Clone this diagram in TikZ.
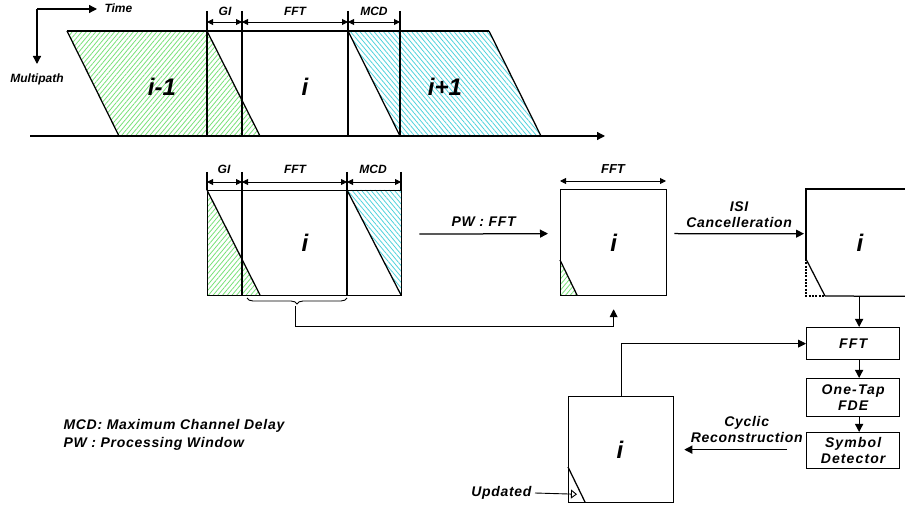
\documentclass[tikz,border=0pt]{standalone}
\usepackage{fontspec}
\setmainfont{Liberation Sans}
\usetikzlibrary{arrows.meta,patterns.meta,decorations.pathreplacing,positioning}
\definecolor{hatchgreen}{RGB}{120,225,120}
\definecolor{hatchcyan}{RGB}{80,210,220}
\tikzset{
  line/.style={line width=1.25pt},
  thinline/.style={line width=0.9pt},
  tip/.style={-{Triangle[length=8pt,width=8pt]}},
  dim/.style={thinline, {Triangle[length=6pt,width=6pt]}-{Triangle[length=6pt,width=6pt]}},
  greenhatch/.style={pattern={Lines[angle=50, distance=3.6pt, line width=0.8pt]}, pattern color=hatchgreen},
  cyanhatch/.style={pattern={Lines[angle=-50, distance=3.6pt, line width=0.8pt]}, pattern color=hatchcyan},
  lbl/.style={font=\fontsize{12}{13}\selectfont\bfseries\itshape},
  big/.style={font=\fontsize{24}{26}\selectfont\bfseries\itshape},
  mid/.style={font=\fontsize{14}{16}\selectfont\bfseries\itshape\addfontfeatures{LetterSpace=5}, align=center},
  frame/.style={draw, line, inner sep=0pt, anchor=north west},
  blk/.style={frame, minimum width=93pt, align=center,
    font=\fontsize{14}{16}\selectfont\bfseries\itshape\addfontfeatures{LetterSpace=8}}
}
\begin{document}
\begin{tikzpicture}[x=1pt,y=-1pt]
  \useasboundingbox (0,0) rectangle (905,510);
  % axes: time and multipath
  \node[lbl, anchor=west] (time) at (101,8) {Time};
  \node[lbl] (mpath) at (37,79) {Multipath};
  \coordinate (ax) at (37,9);
  \draw[line, tip] (ax) -- (97,9);
  \draw[line, tip] (ax) -- (37,64);
  % received blocks i-1, i, i+1
  \fill[greenhatch] (67,31) -- (207,31) -- (260,136) -- (119,136) -- cycle;
  \fill[cyanhatch] (348,31) -- (489,31) -- (541,136) -- (400,136) -- cycle;
  \draw[line] (67,31) -- (489,31);
  \draw[line] (67,31) -- (119,136);
  \draw[line] (207,31) -- (260,136);
  \draw[line] (348,31) -- (400,136);
  \draw[line] (489,31) -- (541,136);
  \foreach \x in {207,242,348,400} {
      \draw[line] (\x,11) -- (\x,136);
  }
  \draw[line, tip] (30,136) -- (605,136);
  \draw[dim] (207,22) -- (242,22);
  \draw[dim] (242,22) -- (348,22);
  \draw[dim] (348,22) -- (400,22);
  \node[lbl] (gi0) at (225,11) {GI};
  \node[lbl] (fft0) at (295,11) {FFT};
  \node[lbl] (mcd0) at (374,11) {MCD};
  \node[big] (prev) at (162,87) {i-1};
  \node[big] (cur) at (305,87) {i};
  \node[big] (next) at (445,87) {i+1};
  % window with GI, FFT and MCD
  \fill[greenhatch] (207,190) -- (260,295) -- (207,295) -- cycle;
  \fill[cyanhatch] (347,190) -- (401,190) -- (401,295) -- cycle;
  \node[frame, minimum width=194pt, minimum height=105pt] (win) at (207,190) {};
  \draw[line] (207,190) -- (260,295);
  \draw[line] (347,190) -- (401,295);
  \draw[line] (207,172) -- (207,190);
  \draw[line] (401,172) -- (401,190);
  \draw[line] (242,172) -- (242,295);
  \draw[line] (347,172) -- (347,295);
  \draw[dim] (207,182) -- (242,182);
  \draw[dim] (242,182) -- (347,182);
  \draw[dim] (347,182) -- (401,182);
  \node[lbl] (gi1) at (224,169) {GI};
  \node[lbl] (fft1) at (295,169) {FFT};
  \node[lbl] (mcd1) at (373,169) {MCD};
  \node[big] at (305,243) {i};
  % brace under the FFT part
  \draw[thinline, decorate, decoration={brace, mirror, amplitude=6pt}] (247,298) -- (347,298);
  \coordinate (bt) at (295,306);
  \coordinate (bend) at (295,326);
  % processing window block
  \fill[greenhatch] (560,260) -- (577,295) -- (560,295) -- cycle;
  \node[frame, minimum width=106pt, minimum height=106pt] (pw) at (560,189) {};
  \draw[line] (560,260) -- (577,295);
  \node[big] at (pw.center) {i};
  \draw[dim] (560,181) -- (666,181);
  \node[lbl, font=\fontsize{13}{14}\selectfont\bfseries\itshape] (fft2) at (613,169) {FFT};
  \draw[line, tip] ([shift={(17,-9)}]win.east) -- ([shift={(-12,-9)}]pw.west)
      node[midway, above=3pt, mid] {PW : FFT};
  \draw[thinline, tip] (bt) -- (bend) -| ([yshift=-13pt]pw.south);
  % block after ISI cancellation
  \node[inner sep=0pt, minimum width=110pt, minimum height=107pt, anchor=north west] (isi) at (806,189) {};
  \draw[line] (806,259) -- (isi.north west) -- (isi.north east);
  \draw[line] (825,296) -- (isi.south east);
  \draw[line] (806,259) -- (825,296);
  \draw[line width=1.8pt, dash pattern=on 2pt off 1.3pt] (806,259) -- (806,296) -- (825,296);
  \node[big] at (860,243) {i};
  \draw[line, tip] ([shift={(7,-9)}]pw.east) -- ([shift={(-2,-9)}]isi.west)
      node[midway, above=2pt, mid] {ISI\\Cancelleration};
  % receiver chain
  \node[blk, minimum height=32pt] (fft) at (806,327) {FFT};
  \node[blk, minimum height=38pt] (tap) at (806,378) {One-Tap\\FDE};
  \node[blk, minimum height=36pt] (sym) at (806,432) {Symbol\\Detector};
  \draw[line, tip] ([xshift=6pt]fft.north |- isi.south) -- ([xshift=6pt]fft.north);
  \draw[line, tip] ([xshift=6pt]fft.south) -- ([xshift=6pt]tap.north);
  \draw[line, tip] ([xshift=6pt]tap.south) -- ([xshift=6pt]sym.north);
  % reconstructed block
  \node[frame, minimum width=105pt, minimum height=106pt] (rec) at (568,396) {};
  \draw[line] (568,467) -- (585,502);
  \node[big] at (620,450) {i};
  \draw[line, tip, shorten <=19pt, shorten >=10pt] (sym.west |- rec.east) -- (rec.east)
      node[pos=0.45, above=3pt, mid] {Cyclic\\Reconstruction};
  \draw[thinline, tip] (rec.north) |- (fft.west);
  \node[mid, anchor=east] (upd) at (535,493) {Updated};
  \draw[thinline, -{Triangle[open, length=6pt, width=9pt]}] (upd.east) -- ([shift={(9,-9)}]rec.south west);
  % legend
  \node[mid, anchor=west] (leg1) at (60,426) {MCD: Maximum Channel Delay};
  \node[mid, anchor=west] (leg2) at (60,444) {PW : Processing Window};
\end{tikzpicture}
\end{document}
